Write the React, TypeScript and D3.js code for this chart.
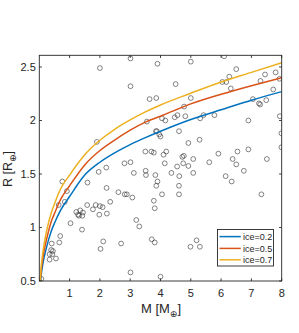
import React from "react";
import * as d3 from "d3";

// Model curves (mass in Earth masses -> radius in Earth radii)
const curveMass = [0.02, 0.04, 0.06, 0.1, 0.15, 0.2, 0.3, 0.4, 0.5, 0.7, 1, 1.5, 2, 2.5, 3, 3.5, 4, 5, 6, 7, 8];
const radiusIce02 = [0.40, 0.49, 0.55, 0.63, 0.71, 0.77, 0.88, 0.97, 1.04, 1.16, 1.29, 1.49, 1.61, 1.70, 1.775, 1.84, 1.90, 2.01, 2.10, 2.19, 2.27];
const radiusIce05 = [0.43, 0.52, 0.59, 0.68, 0.77, 0.84, 0.96, 1.06, 1.13, 1.26, 1.39, 1.585, 1.72, 1.82, 1.91, 1.985, 2.04, 2.155, 2.245, 2.325, 2.40];
const radiusIce07 = [0.45, 0.55, 0.63, 0.73, 0.83, 0.91, 1.04, 1.14, 1.22, 1.36, 1.49, 1.68, 1.815, 1.92, 2.005, 2.08, 2.145, 2.255, 2.36, 2.45, 2.54];
const seriesLabels = ["ice=0.2", "ice=0.5", "ice=0.7"];
const seriesColors = ["#0072BD", "#D95319", "#EDB120"];

// Observed planets
const obsMass = [
  2.00, 3.01, 3.01, 3.64, 3.55, 1.90, 3.50, 2.81, 3.01, 3.12, 1.96, 2.21, 3.51, 3.52, 1.59, 2.22, 0.76,
  3.90, 3.86, 3.88, 3.70, 5.00, 6.10, 4.50, 6.04, 6.17, 6.27, 6.50, 6.32, 7.45, 7.30, 7.80, 7.93, 7.72,
  5.00, 4.78, 7.05, 7.25, 7.29, 7.49, 4.05, 4.16, 4.47, 4.56, 4.82, 5.31, 5.42, 5.78, 7.94, 6.90,
  3.85, 3.96, 4.00, 4.61, 5.29, 4.92, 7.99, 7.99, 6.90, 6.54, 5.91, 3.78, 4.10, 4.19, 4.72, 4.77,
  5.08, 7.51, 6.38, 4.14, 4.75, 4.55, 4.92, 5.61, 6.50, 6.75, 4.36, 5.08, 3.83, 4.62, 6.15, 6.35,
  3.90, 3.86, 4.61, 4.61, 4.05, 3.78, 3.81, 7.33, 3.71, 3.81, 4.99, 5.19, 5.30, 4.00,
  0.91, 0.64, 0.84, 1.22, 1.35, 1.44, 1.28, 1.31, 1.42, 1.58, 1.77, 1.86, 2.00, 2.09, 1.98, 2.23,
  2.34, 2.61, 2.82, 2.89, 3.07, 1.03, 1.41, 0.69, 0.66, 0.41, 0.39, 0.45, 0.34, 0.43, 0.55, 0.34,
  2.11, 2.02, 2.70, 3.20, 3.30, 3.01, 0.07,
];
const obsRadius = [
  2.49, 2.58, 2.32, 2.20, 1.99, 1.80, 1.71, 1.60, 1.61, 1.51, 1.52, 1.56, 1.53, 1.49, 1.42, 1.37, 1.43,
  2.53, 2.21, 1.90, 1.71, 2.55, 2.60, 2.34, 2.36, 2.36, 2.41, 2.48, 2.30, 2.43, 2.37, 2.45, 2.39, 2.29,
  2.21, 2.13, 2.20, 2.16, 2.15, 2.19, 2.02, 2.00, 2.03, 2.05, 2.04, 2.02, 2.05, 2.05, 2.04, 2.00,
  1.90, 1.87, 1.85, 1.90, 1.82, 1.79, 1.88, 1.75, 1.73, 1.71, 1.69, 1.70, 1.68, 1.71, 1.66, 1.67,
  1.64, 1.64, 1.64, 1.60, 1.60, 1.57, 1.575, 1.61, 1.59, 1.53, 1.51, 1.51, 1.49, 1.48, 1.48, 1.43,
  1.43, 1.39, 1.39, 1.31, 1.31, 1.25, 1.18, 1.31, 0.89, 0.86, 0.82, 0.88, 0.82, 0.54,
  1.34, 1.21, 1.24, 1.145, 1.16, 1.14, 1.12, 1.11, 1.11, 1.21, 1.17, 1.21, 1.20, 1.19, 1.12, 1.13,
  1.24, 1.33, 1.31, 1.31, 1.28, 1.04, 0.98, 0.92, 0.86, 0.85, 0.79, 0.78, 0.75, 0.75, 0.71, 0.70,
  0.87, 0.80, 0.85, 1.07, 1.01, 0.58, 0.52,
];

const xTicks = [1, 2, 3, 4, 5, 6, 7, 8];
const yTicks = [0.5, 1, 1.5, 2, 2.5];
const yTickLabels = ["0.5", "1", "1.5", "2", "2.5"];

export default function App() {
  const W = 299, H = 333;
  const left = 39.3, right = 281.7, top = 55.3, bottom = 281;
  const x = d3.scaleLinear().domain([0, 8]).range([left, right]);
  const y = d3.scaleLinear().domain([0.5, 2.5]).range([bottom, 67]);
  const axisColor = "#262626";
  const font = "'Liberation Sans', Arial, Helvetica, sans-serif";
  const tickLen = 2.6;

  const seriesData = [radiusIce02, radiusIce05, radiusIce07];
  const line = d3
    .line<number>()
    .x((_, i) => x(curveMass[i]))
    .y((d) => y(d))
    .curve(d3.curveMonotoneX);

  const legX = 217.5, legY = 229.5, legW = 56, legH = 36.5;
  const rowY = [236.6, 248.4, 259.8];

  return (
    <svg
      width={W}
      height={H}
      style={{ position: "absolute", left: 0, top: 0, background: "#fff" }}
      fontFamily={font}
    >
      <rect x={0} y={0} width={W} height={H} fill="#fff" />
      <defs>
        <clipPath id="plotClip">
          <rect x={left} y={top} width={right - left} height={bottom - top} />
        </clipPath>
      </defs>

      {/* scatter */}
      <g clipPath="url(#plotClip)">
        {obsMass.map((m, i) => (
          <circle
            key={i}
            cx={x(m)}
            cy={y(obsRadius[i])}
            r={2.4}
            fill="none"
            stroke="#333"
            strokeWidth={0.6}
          />
        ))}
        {seriesData.map((s, k) => (
          <path key={k} d={line(s) || ""} fill="none" stroke={seriesColors[k]} strokeWidth={1.5} />
        ))}
      </g>

      {/* axes box */}
      <rect
        x={left}
        y={top}
        width={right - left}
        height={bottom - top}
        fill="none"
        stroke={axisColor}
        strokeWidth={0.9}
      />

      {/* x ticks */}
      {xTicks.map((t) => (
        <g key={"x" + t}>
          <line x1={x(t)} x2={x(t)} y1={bottom} y2={bottom - tickLen} stroke={axisColor} strokeWidth={0.9} />
          <line x1={x(t)} x2={x(t)} y1={top} y2={top + tickLen} stroke={axisColor} strokeWidth={0.9} />
          <text x={x(t)} y={297} textAnchor="middle" fontSize={11} fill={axisColor}>
            {t}
          </text>
        </g>
      ))}

      {/* y ticks */}
      {yTicks.map((t, i) => (
        <g key={"y" + t}>
          <line x1={left} x2={left + tickLen} y1={y(t)} y2={y(t)} stroke={axisColor} strokeWidth={0.9} />
          <line x1={right} x2={right - tickLen} y1={y(t)} y2={y(t)} stroke={axisColor} strokeWidth={0.9} />
          <text x={35.8} y={y(t)} dy="0.36em" textAnchor="end" fontSize={11} fill={axisColor}>
            {yTickLabels[i]}
          </text>
        </g>
      ))}

      {/* axis labels */}
      <text x={161} y={312.5} textAnchor="middle" fontSize={13} fill={axisColor}>
        M [M
        <tspan fontSize={9} dy={4} fontFamily="'DejaVu Sans', sans-serif">⊕</tspan>
        <tspan dy={-4}>]</tspan>
      </text>
      <text
        transform={`translate(11.5,169) rotate(-90)`}
        textAnchor="middle"
        fontSize={12.5}
        fill={axisColor}
      >
        R [R
        <tspan fontSize={9} dy={4} fontFamily="'DejaVu Sans', sans-serif">⊕</tspan>
        <tspan dy={-4}>]</tspan>
      </text>

      {/* legend */}
      <rect x={legX} y={legY} width={legW} height={legH} fill="#fff" stroke={axisColor} strokeWidth={0.9} />
      {seriesLabels.map((lab, k) => (
        <g key={lab}>
          <line x1={219.5} x2={240.8} y1={rowY[k]} y2={rowY[k]} stroke={seriesColors[k]} strokeWidth={1.5} />
          <text x={243} y={rowY[k]} dy="0.35em" fontSize={9} fill={axisColor}>
            {lab}
          </text>
        </g>
      ))}
    </svg>
  );
}
